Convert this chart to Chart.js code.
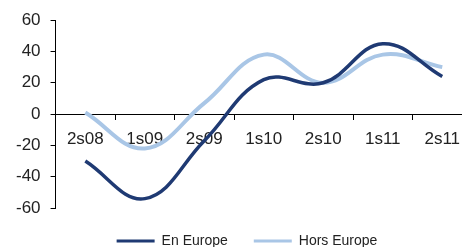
<!DOCTYPE html>
<html>
<head>
<meta charset="utf-8">
<script src="https://cdn.jsdelivr.net/npm/chart.js@4"></script>
<style>
  html, body { margin: 0; padding: 0; background: #fff; overflow: hidden; }
  #wrap { width: 493px; height: 258px; }
</style>
</head>
<body>
<div id="wrap"><canvas id="chart"></canvas></div>
<script>
// Half-year periods
const periods = ["2s08", "1s09", "2s09", "1s10", "2s10", "1s11", "2s11"];
const enEurope = [-30, -54, -17, 22, 20, 45, 24];
const horsEurope = [1, -22, 7, 38, 20, 38, 30];
const yTicks = [-60, -40, -20, 0, 20, 40, 60];

const darkBlue = "#1f3a73";
const lightBlue = "#a9c6e6";

// nudge the legend a bit right, the original is centred under the page, not the plot
const legendShift = {
  id: "legendShift",
  afterLayout(chart) {
    chart.legend.left += 8;
    chart.legend.right += 8;
  },
};

const ctx = document.getElementById("chart").getContext("2d");

new Chart(ctx, {
  type: "line",
  data: {
    labels: periods,
    datasets: [
      {
        label: "En Europe",
        data: enEurope,
        borderColor: darkBlue,
        backgroundColor: darkBlue,
        borderWidth: 3.5,
        tension: 0.4,
        pointRadius: 0,
        fill: false,
        order: 1,
      },
      {
        label: "Hors Europe",
        data: horsEurope,
        borderColor: lightBlue,
        backgroundColor: lightBlue,
        borderWidth: 4,
        tension: 0.4,
        pointRadius: 0,
        fill: false,
        order: 2,
      },
    ],
  },
  plugins: [legendShift],
  options: {
    responsive: true,
    maintainAspectRatio: false,
    animation: false,
    layout: { padding: { top: 12, right: 21, left: 6, bottom: 0 } },
    plugins: {
      tooltip: { enabled: false },
      legend: {
        position: "bottom",
        labels: {
          font: { family: "Liberation Sans", size: 14 },
          color: "#222",
          boxWidth: 38,
          boxHeight: 3,
          padding: 26,
          generateLabels: (chart) =>
            Chart.defaults.plugins.legend.labels
              .generateLabels(chart)
              .map((item) => ({ ...item, lineWidth: 0 })),
        },
      },
    },
    scales: {
      x: {
        position: { y: 0 },
        offset: true,
        grid: {
          offset: true,
          drawOnChartArea: false,
          drawTicks: true,
          tickLength: 5,
          color: "#000",
        },
        border: { display: true, color: "#000", width: 1 },
        ticks: {
          padding: 10,
          color: "#222",
          font: { family: "Liberation Sans", size: 17 },
          maxRotation: 0,
        },
      },
      y: {
        min: -60,
        max: 60,
        afterBuildTicks: (axis) => {
          axis.ticks = yTicks.map((v) => ({ value: v }));
        },
        grid: {
          drawOnChartArea: false,
          drawTicks: true,
          tickLength: 5,
          color: "#000",
        },
        border: { display: true, color: "#000", width: 1 },
        ticks: {
          padding: 10,
          color: "#222",
          font: { family: "Liberation Sans", size: 17 },
        },
      },
    },
  },
});
</script>
</body>
</html>
